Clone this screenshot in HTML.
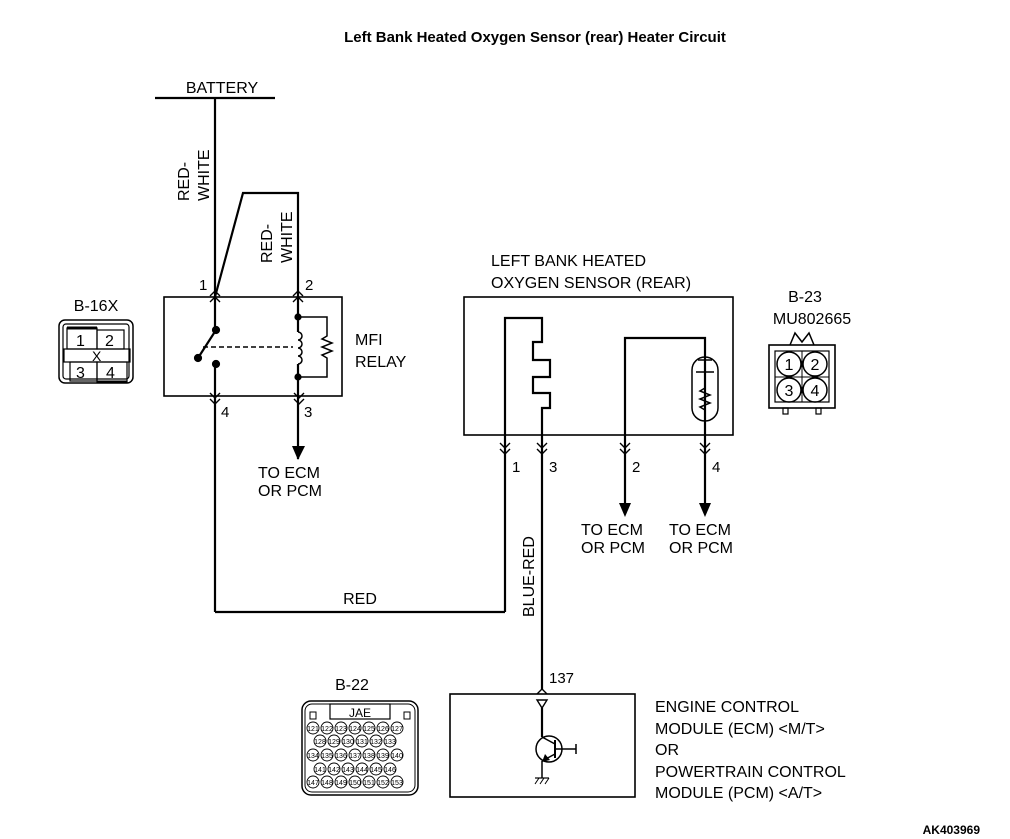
<!DOCTYPE html>
<html><head><meta charset="utf-8"><style>
html,body{margin:0;padding:0;background:#fff;}
svg{display:block;}
text{font-family:"Liberation Sans",Arial,sans-serif;fill:#000;}
</style></head><body>
<svg width="1010" height="839" viewBox="0 0 1010 839" xmlns="http://www.w3.org/2000/svg">
<g stroke="#000" fill="none" stroke-width="2.2">
<text x="535" y="42" font-size="15" font-weight="bold" text-anchor="middle" stroke="none">Left Bank Heated Oxygen Sensor (rear) Heater Circuit</text>

<!-- battery -->
<line x1="155" y1="98" x2="275" y2="98"/>
<line x1="215" y1="98" x2="215" y2="297"/>
<polyline points="215,297 243,193 298,193 298,297"/>

<!-- relay -->
<rect x="164" y="297" width="178" height="99" stroke-width="1.6"/>
<g stroke-width="1.4">
<polyline points="210,296 215,291 220,296"/><polyline points="210,302 215,297 220,302"/>
<polyline points="293,296 298,291 303,296"/><polyline points="293,302 298,297 303,302"/>
<polyline points="210,393 215,398 220,393"/><polyline points="210,399 215,404 220,399"/>
<polyline points="294,393 299,398 304,393"/><polyline points="294,399 299,404 304,399"/>
</g>
<line x1="215" y1="297" x2="215" y2="330"/>
<line x1="215" y1="364" x2="215" y2="612"/>
<circle cx="216" cy="330" r="3" fill="#000"/>
<circle cx="216" cy="364" r="3" fill="#000"/>
<circle cx="198" cy="358" r="3" fill="#000"/>
<line x1="216" y1="330" x2="198" y2="358"/>
<line x1="203" y1="347" x2="293" y2="347" stroke-dasharray="5,3" stroke-width="1.5"/>
<line x1="298" y1="297" x2="298" y2="332"/>
<path d="M298,332 a4,4 0 1 1 0,8 a4,4 0 1 1 0,8 a4,4 0 1 1 0,8 a4,4 0 1 1 0,8" stroke-width="1.5"/>
<line x1="298" y1="364" x2="298" y2="459"/>
<circle cx="298" cy="317" r="2.5" fill="#000"/>
<circle cx="298" cy="377" r="2.5" fill="#000"/>
<polyline points="298,317 327,317 327,336 322,339 332,343 322,347 332,351 322,355 327,358 327,377 298,377" stroke-width="1.5"/>
<polygon points="292,446 305,446 298,460" fill="#000" stroke="none"/>
<text x="199" y="290" font-size="15" stroke="none">1</text>
<text x="305" y="290" font-size="15" stroke="none">2</text>
<text x="221" y="417" font-size="15" stroke="none">4</text>
<text x="304" y="417" font-size="15" stroke="none">3</text>
<text x="355" y="345" font-size="16" stroke="none">MFI</text>
<text x="355" y="367" font-size="16" stroke="none">RELAY</text>
<text x="258" y="478" font-size="16" stroke="none">TO ECM</text>
<text x="258" y="496" font-size="16" stroke="none">OR PCM</text>
<text x="222" y="93" font-size="16" text-anchor="middle" stroke="none">BATTERY</text>
<text transform="translate(189,201) rotate(-90)" font-size="16" stroke="none">RED-</text>
<text transform="translate(209,201) rotate(-90)" font-size="16" stroke="none">WHITE</text>
<text transform="translate(272,263) rotate(-90)" font-size="16" stroke="none">RED-</text>
<text transform="translate(292,263) rotate(-90)" font-size="16" stroke="none">WHITE</text>

<!-- B-16X -->
<text x="96" y="311" font-size="16" text-anchor="middle" stroke="none">B-16X</text>
<rect x="59" y="320" width="74" height="63" rx="6" stroke-width="1.5"/>
<rect x="63" y="324" width="66" height="55" rx="3" stroke-width="1.2"/>
<rect x="67" y="328" width="30" height="21" stroke-width="1.2"/>
<rect x="97" y="330" width="27" height="19" stroke-width="1.2"/>
<rect x="64" y="349" width="66" height="13" stroke-width="1.2"/>
<rect x="70" y="362" width="27" height="19" stroke-width="1.2"/>
<rect x="97" y="362" width="30" height="20" stroke-width="1.2"/>
<line x1="67" y1="328" x2="97" y2="328" stroke-width="3"/>
<line x1="97" y1="382" x2="127" y2="382" stroke-width="3"/>
<text x="76" y="346" font-size="16" stroke="none">1</text>
<text x="105" y="346" font-size="16" stroke="none">2</text>
<text x="92" y="361" font-size="14" stroke="none">X</text>
<text x="76" y="378" font-size="16" stroke="none">3</text>
<text x="106" y="378" font-size="16" stroke="none">4</text>

<!-- sensor -->
<text x="491" y="266" font-size="16" stroke="none">LEFT BANK HEATED</text>
<text x="491" y="288" font-size="16" stroke="none">OXYGEN SENSOR (REAR)</text>
<rect x="464" y="297" width="269" height="138" stroke-width="1.6"/>
<polyline points="505,612 505,318 542,318 542,342 533,342 533,360 550,360 550,377 533,377 533,393 550,393 550,408 542,408 542,690"/>
<polyline points="625,505 625,338 705,338 705,505"/>
<rect x="692" y="357" width="26" height="64" rx="13" stroke-width="1.5"/>
<line x1="698" y1="360" x2="712" y2="360" stroke-width="1.5"/>
<line x1="696" y1="372" x2="714" y2="372" stroke-width="1.5"/>
<polyline points="705,372 705,388 700,391 710,395 700,399 710,403 700,407 705,410 705,421" stroke-width="1.5"/>
<g stroke-width="1.4">
<polyline points="500,443 505,448 510,443"/><polyline points="500,449 505,454 510,449"/>
<polyline points="537,443 542,448 547,443"/><polyline points="537,449 542,454 547,449"/>
<polyline points="620,443 625,448 630,443"/><polyline points="620,449 625,454 630,449"/>
<polyline points="700,443 705,448 710,443"/><polyline points="700,449 705,454 710,449"/>
</g>
<polygon points="619,503 631,503 625,517" fill="#000" stroke="none"/>
<polygon points="699,503 711,503 705,517" fill="#000" stroke="none"/>
<text x="512" y="472" font-size="15" stroke="none">1</text>
<text x="549" y="472" font-size="15" stroke="none">3</text>
<text x="632" y="472" font-size="15" stroke="none">2</text>
<text x="712" y="472" font-size="15" stroke="none">4</text>
<text x="581" y="535" font-size="16" stroke="none">TO ECM</text>
<text x="581" y="553" font-size="16" stroke="none">OR PCM</text>
<text x="669" y="535" font-size="16" stroke="none">TO ECM</text>
<text x="669" y="553" font-size="16" stroke="none">OR PCM</text>
<line x1="215" y1="612" x2="505" y2="612"/>
<text x="360" y="604" font-size="16" text-anchor="middle" stroke="none">RED</text>
<text transform="translate(534,617) rotate(-90)" font-size="16" stroke="none">BLUE-RED</text>

<!-- B-23 -->
<text x="805" y="302" font-size="16" text-anchor="middle" stroke="none">B-23</text>
<text x="812" y="324" font-size="16" text-anchor="middle" stroke="none">MU802665</text>
<polyline points="790,345 795,333 802,342 809,333 814,345" stroke-width="1.5"/>
<rect x="769" y="345" width="66" height="63" stroke-width="1.6"/>
<rect x="775" y="351" width="54" height="51" stroke-width="1.2"/>
<line x1="802" y1="351" x2="802" y2="402" stroke-width="1"/>
<line x1="775" y1="377" x2="829" y2="377" stroke-width="1"/>
<circle cx="789" cy="364" r="12" stroke-width="1.5"/><circle cx="815" cy="364" r="12" stroke-width="1.5"/>
<circle cx="789" cy="390" r="12" stroke-width="1.5"/><circle cx="815" cy="390" r="12" stroke-width="1.5"/>
<text x="789" y="370" font-size="16" text-anchor="middle" stroke="none">1</text>
<text x="815" y="370" font-size="16" text-anchor="middle" stroke="none">2</text>
<text x="789" y="396" font-size="16" text-anchor="middle" stroke="none">3</text>
<text x="815" y="396" font-size="16" text-anchor="middle" stroke="none">4</text>
<rect x="783" y="408" width="5" height="6" stroke-width="1.2"/>
<rect x="816" y="408" width="5" height="6" stroke-width="1.2"/>

<!-- ECM -->
<rect x="450" y="694" width="185" height="103" stroke-width="1.6"/>
<polyline points="537,694 542,689 547,694" stroke-width="1.4"/>
<text x="549" y="683" font-size="15" stroke="none">137</text>
<polygon points="537,700 547,700 542,708" stroke-width="1.4"/>
<line x1="542" y1="708" x2="542" y2="737"/>
<circle cx="549" cy="749" r="13" stroke-width="1.5"/>
<line x1="555" y1="740" x2="555" y2="758" stroke-width="2"/>
<line x1="542" y1="737" x2="555" y2="744" stroke-width="1.5"/>
<line x1="555" y1="754" x2="542" y2="761" stroke-width="1.5"/>
<polygon points="542,762 545,754 550,760" fill="#000" stroke="none"/>
<line x1="555" y1="749" x2="576" y2="749" stroke-width="1.5"/>
<line x1="576" y1="744" x2="576" y2="754" stroke-width="1.5"/>
<line x1="542" y1="761" x2="542" y2="778" stroke-width="1.5"/>
<line x1="535" y1="778" x2="549" y2="778" stroke-width="1.2"/>
<line x1="535" y1="784" x2="539" y2="778" stroke-width="1"/>
<line x1="540" y1="784" x2="544" y2="778" stroke-width="1"/>
<line x1="545" y1="784" x2="549" y2="778" stroke-width="1"/>
<text x="655" y="712" font-size="16" stroke="none">ENGINE CONTROL</text>
<text x="655" y="734" font-size="16" stroke="none">MODULE (ECM) &lt;M/T&gt;</text>
<text x="655" y="755" font-size="16" stroke="none">OR</text>
<text x="655" y="777" font-size="16" stroke="none">POWERTRAIN CONTROL</text>
<text x="655" y="798" font-size="16" stroke="none">MODULE (PCM) &lt;A/T&gt;</text>
<text x="980" y="834" font-size="12" font-weight="bold" text-anchor="end" stroke="none">AK403969</text>

<!-- B-22 -->
<text x="352" y="690" font-size="16" text-anchor="middle" stroke="none">B-22</text>
<rect x="302" y="701" width="116" height="94" rx="9" stroke-width="1.5"/>
<rect x="305" y="704" width="110" height="88" rx="7" stroke-width="1"/>
<rect x="330" y="704" width="60" height="15" stroke-width="1.2"/>
<text x="360" y="717" font-size="12" text-anchor="middle" stroke="none">JAE</text>
<rect x="310" y="712" width="6" height="7" stroke-width="1"/>
<rect x="404" y="712" width="6" height="7" stroke-width="1"/>
<g stroke-width="0.9">
<circle cx="313" cy="728" r="6"/><circle cx="327" cy="728" r="6"/><circle cx="341" cy="728" r="6"/><circle cx="355" cy="728" r="6"/><circle cx="369" cy="728" r="6"/><circle cx="383" cy="728" r="6"/><circle cx="397" cy="728" r="6"/>
<circle cx="320" cy="741" r="6"/><circle cx="334" cy="741" r="6"/><circle cx="348" cy="741" r="6"/><circle cx="362" cy="741" r="6"/><circle cx="376" cy="741" r="6"/><circle cx="390" cy="741" r="6"/>
<circle cx="313" cy="755" r="6"/><circle cx="327" cy="755" r="6"/><circle cx="341" cy="755" r="6"/><circle cx="355" cy="755" r="6"/><circle cx="369" cy="755" r="6"/><circle cx="383" cy="755" r="6"/><circle cx="397" cy="755" r="6"/>
<circle cx="320" cy="769" r="6"/><circle cx="334" cy="769" r="6"/><circle cx="348" cy="769" r="6"/><circle cx="362" cy="769" r="6"/><circle cx="376" cy="769" r="6"/><circle cx="390" cy="769" r="6"/>
<circle cx="313" cy="782" r="6"/><circle cx="327" cy="782" r="6"/><circle cx="341" cy="782" r="6"/><circle cx="355" cy="782" r="6"/><circle cx="369" cy="782" r="6"/><circle cx="383" cy="782" r="6"/><circle cx="397" cy="782" r="6"/>
</g>
<g font-size="7" text-anchor="middle" stroke="none">
<text x="313" y="731">121</text><text x="327" y="731">122</text><text x="341" y="731">123</text><text x="355" y="731">124</text><text x="369" y="731">125</text><text x="383" y="731">126</text><text x="397" y="731">127</text>
<text x="320" y="744">128</text><text x="334" y="744">129</text><text x="348" y="744">130</text><text x="362" y="744">131</text><text x="376" y="744">132</text><text x="390" y="744">133</text>
<text x="313" y="758">134</text><text x="327" y="758">135</text><text x="341" y="758">136</text><text x="355" y="758">137</text><text x="369" y="758">138</text><text x="383" y="758">139</text><text x="397" y="758">140</text>
<text x="320" y="772">141</text><text x="334" y="772">142</text><text x="348" y="772">143</text><text x="362" y="772">144</text><text x="376" y="772">145</text><text x="390" y="772">146</text>
<text x="313" y="785">147</text><text x="327" y="785">148</text><text x="341" y="785">149</text><text x="355" y="785">150</text><text x="369" y="785">151</text><text x="383" y="785">152</text><text x="397" y="785">153</text>
</g>
</g>
</svg>
</body></html>
